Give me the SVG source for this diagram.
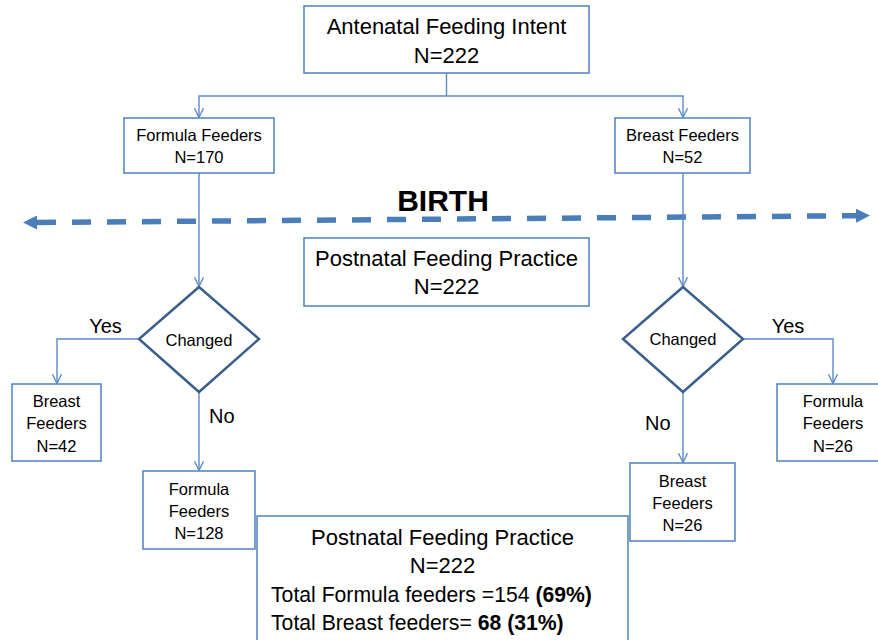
<svg xmlns="http://www.w3.org/2000/svg" width="878" height="640" viewBox="0 0 878 640">
<defs>
<style>
.box{fill:#fff;stroke:#4F81BD;stroke-width:1.5}
.dia{fill:#fff;stroke:#3C5F8C;stroke-width:2.5}
.con{fill:none;stroke:#5B8AC6;stroke-width:1.4}
.t{font-family:"Liberation Sans",Arial,sans-serif;fill:#000;text-anchor:middle}
.big{font-size:22px}
.sm{font-size:16.5px}
.lbl{font-size:20px}
.l{text-anchor:start}
.b{font-weight:bold}
</style>
<marker id="v" viewBox="0 0 10 10" refX="9.3" refY="5" markerWidth="10" markerHeight="10" markerUnits="userSpaceOnUse" orient="auto">
<path d="M0,0.5 L9.3,5 L0,9.5" fill="none" stroke="#5B8AC6" stroke-width="1.3"/>
</marker>
<marker id="blk" viewBox="0 0 14 14" refX="0" refY="7" markerWidth="14" markerHeight="14" markerUnits="userSpaceOnUse" orient="auto-start-reverse">
<path d="M0,0 L14,7 L0,14 z" fill="#4A7EBB"/>
</marker>
</defs>
<rect width="878" height="640" fill="#fff"/>

<g id="birth">
<path d="M37,222.5 L856,215.7" fill="none" stroke="#4A7EBB" stroke-width="5.5" stroke-dasharray="19 16" marker-start="url(#blk)" marker-end="url(#blk)"/>
<text class="t b" x="443" y="211" font-size="30">BIRTH</text>
</g>

<g id="connectors">
<path class="con" d="M446.5,73 V96 H199 V117.5" marker-end="url(#v)"/>
<path class="con" d="M446.5,96 H683 V117.5" marker-end="url(#v)"/>
<path class="con" d="M199,173 V286.5" marker-end="url(#v)"/>
<path class="con" d="M683,173 V286.5" marker-end="url(#v)"/>
<path class="con" d="M139,339 H57 V383.5" marker-end="url(#v)"/>
<path class="con" d="M199,392 V470.5" marker-end="url(#v)"/>
<path class="con" d="M743,339 H833 V383.5" marker-end="url(#v)"/>
<path class="con" d="M683,392 V462.5" marker-end="url(#v)"/>
<text class="t lbl" x="105.5" y="333">Yes</text>
<text class="t lbl l" x="209" y="423">No</text>
<text class="t lbl" x="788" y="333">Yes</text>
<text class="t lbl l" x="645" y="430">No</text>
</g>

<g id="antenatal">
<rect class="box" x="304" y="6" width="285" height="67"/>
<text class="t big" x="446.5" y="34">Antenatal Feeding Intent</text>
<text class="t big" x="446.5" y="63">N=222</text>
</g>

<g id="formula170">
<rect class="box" x="124" y="118" width="150" height="55"/>
<text class="t sm" x="199" y="141">Formula Feeders</text>
<text class="t sm" x="199" y="163">N=170</text>
</g>

<g id="breast52">
<rect class="box" x="615" y="118" width="135" height="55"/>
<text class="t sm" x="682.5" y="141">Breast Feeders</text>
<text class="t sm" x="682.5" y="163">N=52</text>
</g>

<g id="postnatal">
<rect class="box" x="304" y="238" width="285" height="68"/>
<text class="t big" x="446.5" y="266">Postnatal Feeding Practice</text>
<text class="t big" x="446.5" y="294">N=222</text>
</g>

<g id="changedLeft">
<polygon class="dia" points="199,287 259,339 199,392 139,339"/>
<text class="t sm" x="199" y="346">Changed</text>
</g>

<g id="changedRight">
<polygon class="dia" points="683,287 743,339 683,392 623,339"/>
<text class="t sm" x="683" y="345">Changed</text>
</g>

<g id="breast42">
<rect class="box" x="12" y="384" width="89" height="77"/>
<text class="t sm" x="56.5" y="407">Breast</text>
<text class="t sm" x="56.5" y="429">Feeders</text>
<text class="t sm" x="56.5" y="452">N=42</text>
</g>

<g id="formula128">
<rect class="box" x="143" y="471" width="112" height="78"/>
<text class="t sm" x="199" y="495">Formula</text>
<text class="t sm" x="199" y="517">Feeders</text>
<text class="t sm" x="199" y="539">N=128</text>
</g>

<g id="formula26">
<rect class="box" x="777" y="384" width="112" height="77"/>
<text class="t sm" x="833" y="407">Formula</text>
<text class="t sm" x="833" y="429">Feeders</text>
<text class="t sm" x="833" y="452">N=26</text>
</g>

<g id="breast26">
<rect class="box" x="630" y="463" width="105" height="78"/>
<text class="t sm" x="682.5" y="487">Breast</text>
<text class="t sm" x="682.5" y="509">Feeders</text>
<text class="t sm" x="682.5" y="531">N=26</text>
</g>

<g id="summary">
<rect class="box" x="257" y="516" width="371" height="140"/>
<text class="t big" x="442.5" y="545">Postnatal Feeding Practice</text>
<text class="t big" x="442.5" y="573">N=222</text>
<text class="t l" x="271" y="602" font-size="21.2">Total Formula feeders =154 <tspan class="b">(69%)</tspan></text>
<text class="t l" x="271" y="630" font-size="21.2">Total Breast feeders= <tspan class="b">68 (31%)</tspan></text>
</g>
</svg>
